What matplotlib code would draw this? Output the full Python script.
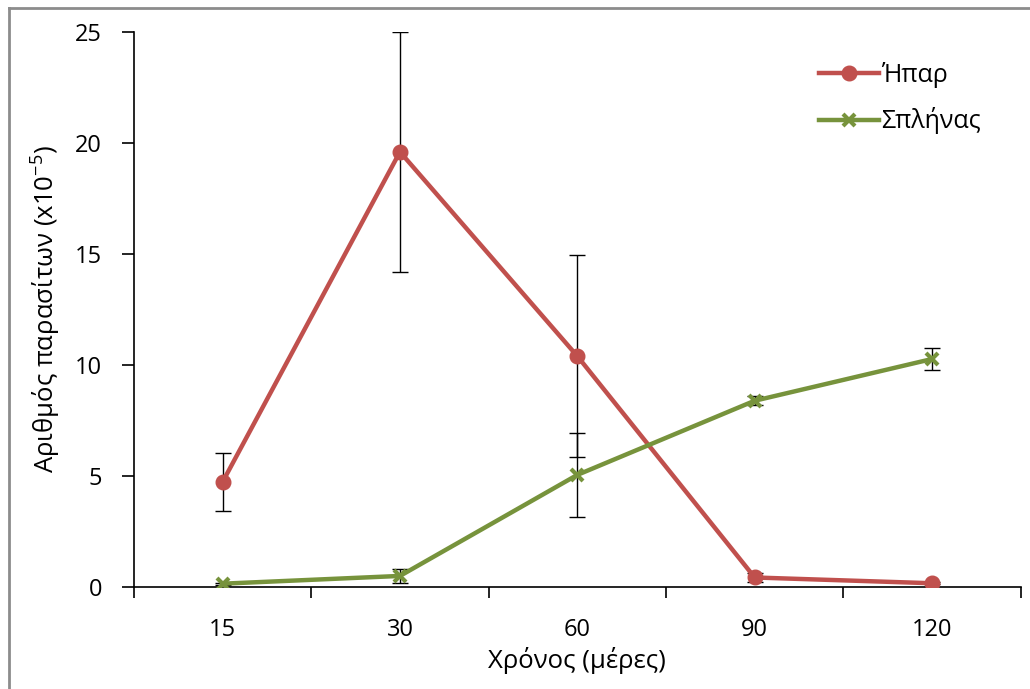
import matplotlib
matplotlib.use("Agg")
import matplotlib.pyplot as plt
from matplotlib.lines import Line2D
import numpy as np

plt.rcParams['font.family'] = ['Open Sans', 'DejaVu Sans']
plt.rcParams['mathtext.fontset'] = 'custom'
plt.rcParams['mathtext.rm'] = 'Open Sans'

categories = ["15", "30", "60", "90", "120"]
liver = [4.73, 19.6, 10.4, 0.43, 0.17]
liver_err = [1.3, 5.4, 4.55, 0.2, 0.05]
spleen = [0.15, 0.5, 5.05, 8.39, 10.27]
spleen_err = [0.05, 0.3, 1.9, 0.2, 0.48]

red = "#C0504D"
green = "#77933C"

fig = plt.figure(figsize=(10.30, 6.89), dpi=100)
ax = fig.add_axes([0.130, 0.148, 0.861, 0.8056])

x = np.arange(len(categories))
ax.errorbar(x, liver, yerr=liver_err, fmt='none', ecolor='black', elinewidth=1.0,
            capsize=6, capthick=1.0, zorder=2)
ax.errorbar(x, spleen, yerr=spleen_err, fmt='none', ecolor='black', elinewidth=1.0,
            capsize=6, capthick=1.0, zorder=2)
ax.plot(x, liver, color=red, lw=3.2, marker='o', markersize=10.5, label='Ήπαρ', zorder=3)
ax.plot(x, spleen, color=green, lw=3.2, marker='x', markersize=8.5, mew=3, label='Σπλήνας', zorder=3)

ax.set_xlim(-0.5, len(categories) - 0.5)
ax.set_ylim(0, 25)
ax.set_yticks(np.arange(0, 26, 5))
ax.set_xticks(x)
ax.set_xticklabels(categories)
ax.set_xticks(np.arange(-0.5, len(categories), 1.0), minor=True)
ax.tick_params(axis='x', which='major', length=0, pad=22, labelsize=17)
ax.tick_params(axis='x', which='minor', length=8, width=1.2, direction='out')
ax.tick_params(axis='y', length=9, width=1.2, direction='out', labelsize=17, pad=14)

for s in ['top', 'right']:
    ax.spines[s].set_visible(False)
for s in ['left', 'bottom']:
    ax.spines[s].set_linewidth(1.2)
    ax.spines[s].set_color('black')

ax.set_ylabel('Αριθμός παρασίτων (x10$^{\\mathregular{-5}}$)', fontsize=18.5, labelpad=9)
ax.set_xlabel('Χρόνος (μέρες)', fontsize=18.5, labelpad=4)

leg = ax.legend(loc='upper right', bbox_to_anchor=(0.972, 0.973), frameon=False, fontsize=18,
                handlelength=2.4, labelspacing=0.78, handletextpad=0.1, borderaxespad=0.2)

fig.lines.append(Line2D([0.0087, 1.0], [0.9885, 0.9885], transform=fig.transFigure,
                        color='#8c8c8c', lw=2))
fig.lines.append(Line2D([0.0087, 0.0087], [0.0, 0.9885], transform=fig.transFigure,
                        color='#8c8c8c', lw=2))

fig.savefig('out.png', dpi=100)
